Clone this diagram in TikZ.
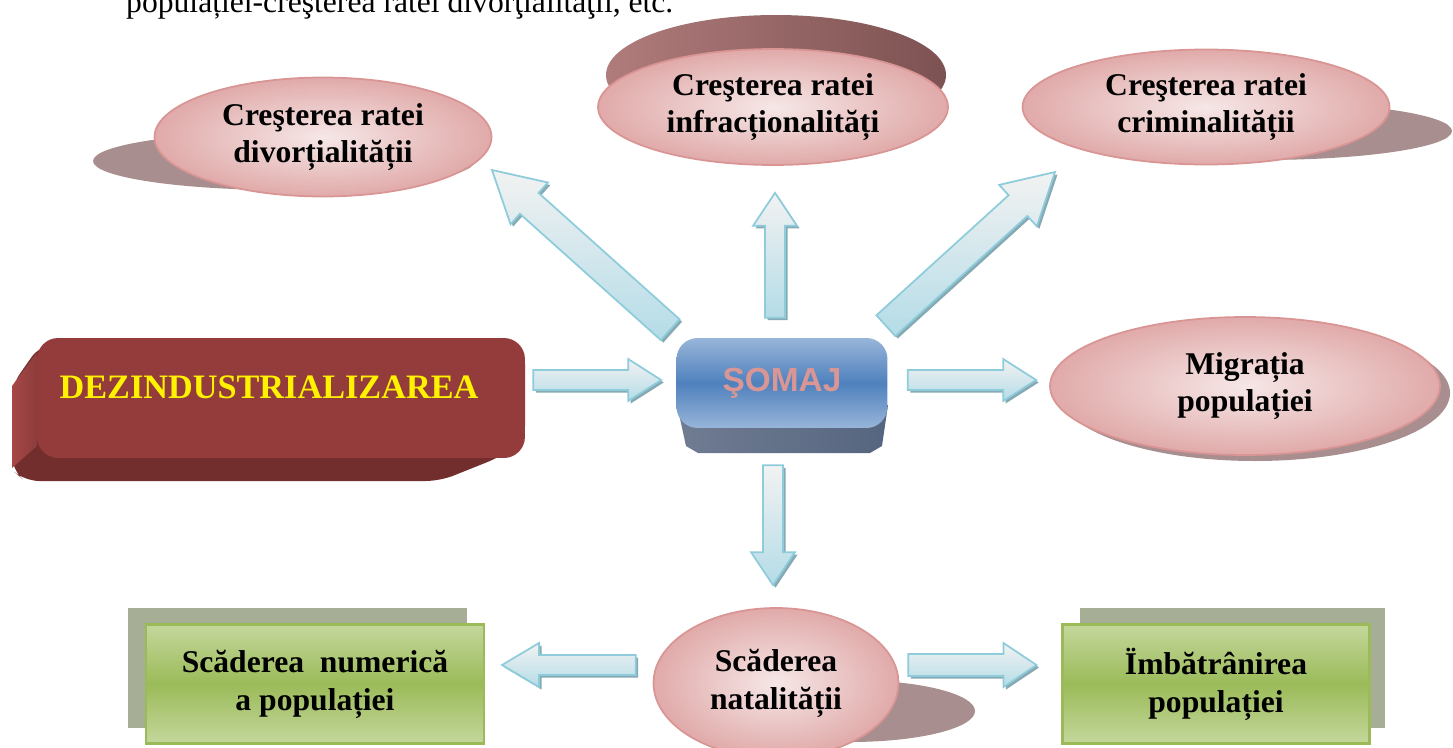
\documentclass[tikz,border=0pt]{standalone}
\usepackage{fontspec}
\setmainfont{Liberation Serif}
\setsansfont{Liberation Sans}
\usetikzlibrary{shapes,calc}

\definecolor{bubblein}{HTML}{F6E7E7}
\definecolor{bubbleout}{HTML}{E0AAA9}
\definecolor{bubbleline}{HTML}{D99594}
\definecolor{shadowmauve}{HTML}{A88E8E}
\definecolor{topdarkl}{HTML}{B07B7B}
\definecolor{topdarkr}{HTML}{7D5252}
\definecolor{dezfront}{HTML}{943B3B}
\definecolor{dezbottom}{HTML}{722D2D}
\definecolor{dezside}{HTML}{A64747}
\definecolor{somajlight}{HTML}{98B5D9}
\definecolor{somajmid}{HTML}{4F81BD}
\definecolor{somajside}{HTML}{56657F}
\definecolor{somajtext}{HTML}{DA9694}
\definecolor{greenlight}{HTML}{C4D79C}
\definecolor{greendark}{HTML}{9BBB59}
\definecolor{greenshadow}{HTML}{A7AE96}
\definecolor{arrowtop}{HTML}{F2F2F2}
\definecolor{arrowbot}{HTML}{B4DCE7}
\definecolor{arrowline}{HTML}{8ECCDB}
\definecolor{arrowshade}{HTML}{86A9B3}

% tail, tip, half shaft, half head, head length
\newcommand{\blockarrow}[5]{%
  \coordinate (hb) at ($(#2)!#5!(#1)$);
  \path[arrowshadow] ($(#1)!#3!90:(#2)$) -- ($(hb)!#3!90:(#2)$) -- ($(hb)!#4!90:(#2)$) -- (#2)
    -- ($(hb)!#4!-90:(#2)$) -- ($(hb)!#3!-90:(#2)$) -- ($(#1)!#3!-90:(#2)$) -- cycle;
  \path[arrowbody] ($(#1)!#3!90:(#2)$) -- ($(hb)!#3!90:(#2)$) -- ($(hb)!#4!90:(#2)$) -- (#2)
    -- ($(hb)!#4!-90:(#2)$) -- ($(hb)!#3!-90:(#2)$) -- ($(#1)!#3!-90:(#2)$) -- cycle;
}

\begin{document}
\begin{tikzpicture}[x=0.02cm, y=-0.02cm, font=\fontsize{18}{21.5}\selectfont\bfseries]
			\tikzstyle{bubble}=[ellipse, draw=bubbleline, line width=1pt, inner color=bubblein,
			outer color=bubbleout, inner sep=0pt, align=center]
			\tikzstyle{greenbox}=[rectangle, draw=greendark, line width=1.2pt, top color=greenlight,
			bottom color=greenlight, middle color=greendark, inner sep=0pt, align=center]
			\tikzstyle{flatshadow}=[fill=shadowmauve]
			\tikzstyle{arrowbody}=[top color=arrowtop, bottom color=arrowbot, draw=arrowline, line width=1pt]
			\tikzstyle{arrowshadow}=[fill=arrowshade, transform canvas={shift={(0.05cm,-0.05cm)}}]
			\useasboundingbox (0,0) rectangle (1453,747);
			\clip (0,0) rectangle (1453,747);

			\node[anchor=base west, font=\fontsize{18}{21.5}\selectfont\mdseries] (intro) at (120,12)
			{populației-creşterea ratei divorţialităţii, etc.};

			% shadows
			\fill[flatshadow] (284,161) ellipse [x radius=191, y radius=29];
			\fill[flatshadow] (1261,131) ellipse [x radius=191, y radius=29];
			\fill[flatshadow] (1255,393) ellipse [x radius=195, y radius=68];
			\fill[flatshadow] (850,711) ellipse [x radius=125, y radius=31];
			\shade[left color=topdarkl, right color=topdarkr] (776,75) ellipse [x radius=170, y radius=60];
			\fill[greenshadow] (128,608) rectangle (467,728);
			\fill[greenshadow] (1080,608) rectangle (1385,728);
			\fill[dezbottom, rounded corners=8] (40,345) -- (12,385) -- (12,470) -- (25,481) -- (440,481)
			-- (500,457) -- (525,440) -- (525,350) -- cycle;
			\shade[left color=dezside, right color=dezside!85!black] (37,352) -- (12,386) -- (12,468) -- (37,446) -- cycle;
			\shade[left color=somajside!85!white, right color=somajside] (677,405) -- (686,446) -- (698,453)
			-- (870,453) -- (882,446) -- (888,405) -- cycle;

			% nodes
			\node[rectangle, rounded corners=12, fill=dezfront, minimum width=9.76cm, minimum height=2.4cm]
			(dez) at (281,398) {};
			\node[text=yellow, font=\fontsize{19.5}{22}\selectfont\bfseries] (deztext) at ($(dez.center)+(-12,-11)$)
			{DEZINDUSTRIALIZAREA};
			\node[rectangle, rounded corners=12, top color=somajlight, bottom color=somajlight,
			middle color=somajmid, minimum width=4.22cm, minimum height=1.8cm, text=somajtext,
			font=\fontsize{19}{22}\sffamily\bfseries] (somaj) at (782,383) {ŞOMAJ};
			\node[bubble, minimum width=6.74cm, minimum height=2.38cm] (divort) at (323,137)
			{Creşterea ratei\\divorțialității};
			\node[bubble, minimum width=7cm, minimum height=2.32cm] (infract) at (773,107)
			{Creşterea ratei\\infracționalități};
			\node[bubble, minimum width=7.34cm, minimum height=2.3cm] (crim) at (1206,107)
			{Creşterea ratei\\criminalității};
			\node[bubble, minimum width=7.8cm, minimum height=2.76cm] (migr) at (1245,386)
			{Migrația\\populației};
			\node[bubble, minimum width=4.9cm, minimum height=3cm] (natal) at (776,683)
			{Scăderea\\natalității};
			\node[greenbox, minimum width=6.76cm, minimum height=2.38cm] (numerica) at (315,684)
			{Scăderea\ \ numerică\\a populației};
			\node[greenbox, minimum width=6.14cm, minimum height=2.38cm] (imbatr) at (1216,684)
			{Ïmbătrânirea\\populației};

			% arrows
			\coordinate (dezout) at ($(dez.east)+(8,-18)$);
			\coordinate (somajin) at ($(somaj.west)+(-15,-3)$);
			\coordinate (somajright) at ($(somaj.east)+(20,-3)$);
			\coordinate (migrin) at ($(migr.west)+(-13,-6)$);
			\coordinate (somajup) at ($(somaj.north)+(-7,-20)$);
			\coordinate (infractin) at ($(infract.south)+(2,27)$);
			\coordinate (somajnw) at ($(somaj.north west)+(-6,-8)$);
			\coordinate (divortin) at ($(divort.center)+(169,33)$);
			\coordinate (somajne) at ($(somaj.north east)+(-2,-12)$);
			\coordinate (crimin) at ($(crim.center)+(-151,65)$);
			\coordinate (somajdown) at ($(somaj.south)+(-9,37)$);
			\coordinate (natalin) at ($(natal.north)+(-3,-22)$);
			\coordinate (natalleft) at ($(natal.west)+(-17,-18)$);
			\coordinate (numericain) at ($(numerica.east)+(17,-19)$);
			\coordinate (natalright) at ($(natal.east)+(9,-18)$);
			\coordinate (imbatrin) at ($(imbatr.west)+(-25,-19)$);

			\blockarrow{dezout}{somajin}{0.2cm}{0.42cm}{0.66cm}
			\blockarrow{somajright}{migrin}{0.2cm}{0.42cm}{0.66cm}
			\blockarrow{somajup}{infractin}{0.2cm}{0.44cm}{0.66cm}
			\blockarrow{somajnw}{divortin}{0.28cm}{0.56cm}{1.0cm}
			\blockarrow{somajne}{crimin}{0.28cm}{0.56cm}{1.0cm}
			\blockarrow{somajdown}{natalin}{0.2cm}{0.44cm}{0.66cm}
			\blockarrow{natalleft}{numericain}{0.2cm}{0.44cm}{0.74cm}
			\blockarrow{natalright}{imbatrin}{0.22cm}{0.44cm}{0.66cm}
		\end{tikzpicture}
\end{document}
